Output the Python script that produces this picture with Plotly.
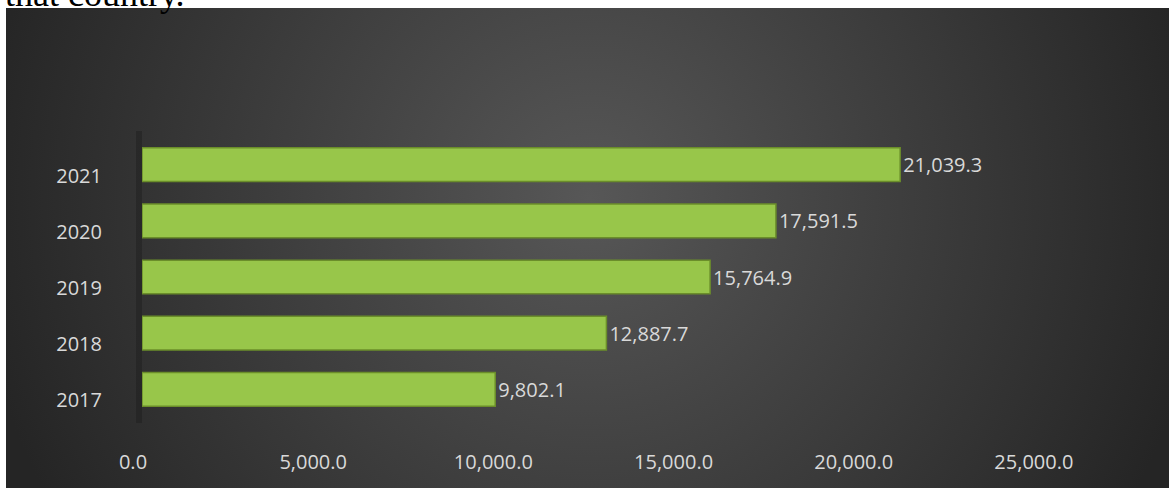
import base64
import plotly.graph_objects as go

# ---- data ----
years = ["2017", "2018", "2019", "2020", "2021"]
values = [9802.1, 12887.7, 15764.9, 17591.5, 21039.3]
x_tick_vals = [0, 5000, 10000, 15000, 20000, 25000]
x_tick_text = ["0.0", "5,000.0", "10,000.0", "15,000.0", "20,000.0", "25,000.0"]
heading_text = "that country."

# ---- layout geometry ----
W, H = 1169, 488
ML, MR, MT, MB = 142, 18, 131, 65
PW, PH = W - ML - MR, H - MT - MB


def px_x(px):
    return (px - ML) / PW


def px_y(py):
    return 1 + (MT - py) / PH


# radial gradient background as SVG image
bw, bh = 1175, 490
svg = f'''<svg xmlns="http://www.w3.org/2000/svg" width="{bw}" height="{bh}" viewBox="0 0 {bw} {bh}">
<defs><radialGradient id="g" gradientUnits="userSpaceOnUse" cx="584" cy="190" r="620">
<stop offset="0" stop-color="#575757"/><stop offset="1" stop-color="#252525"/></radialGradient></defs>
<rect x="0" y="0" width="{bw}" height="{bh}" fill="url(#g)"/></svg>'''
src = "data:image/svg+xml;base64," + base64.b64encode(svg.encode()).decode()

FONT = "Open Sans"
LABEL_COLOR = "#d9d9d9"

fig = go.Figure()
fig.add_trace(go.Bar(
    y=years, x=values, orientation="h",
    width=0.6,
    marker=dict(color="#98c64a", line=dict(color="#6b8e2a", width=1.5)),
    text=values, texttemplate="%{x:,.1f}", textposition="outside",
    textfont=dict(family=FONT, size=20, color=LABEL_COLOR),
    cliponaxis=False,
))

fig.update_layout(
    width=W, height=H,
    margin=dict(l=ML, r=MR, t=MT, b=MB),
    paper_bgcolor="#252525", plot_bgcolor="rgba(0,0,0,0)",
    showlegend=False,
    images=[dict(source=src, xref="paper", yref="paper",
                 x=px_x(6), y=px_y(8), sizex=bw / PW, sizey=bh / PH,
                 xanchor="left", yanchor="top", sizing="stretch", layer="below")],
    shapes=[
        dict(type="rect", xref="paper", yref="paper", layer="below",
             x0=px_x(-5), x1=px_x(W + 5), y0=px_y(8), y1=px_y(-5),
             fillcolor="white", line=dict(width=0)),
        dict(type="rect", xref="paper", yref="paper", layer="below",
             x0=px_x(-5), x1=px_x(6), y0=px_y(H + 5), y1=px_y(-5),
             fillcolor="white", line=dict(width=0)),
    ],
    annotations=[dict(text=heading_text, xref="paper", yref="paper",
                      x=px_x(3), y=px_y(16), xanchor="left", yanchor="bottom",
                      showarrow=False,
                      font=dict(family="Liberation Serif", size=36, color="black"))],
)

fig.update_xaxes(
    range=[0, 28000], tickvals=x_tick_vals, ticktext=x_tick_text,
    showgrid=False, zeroline=False, showline=False, ticks="",
    tickfont=dict(family=FONT, size=20, color=LABEL_COLOR),
    ticklabelshift=-9, ticklabelstandoff=25,
)
fig.update_yaxes(
    range=[-0.6, 4.6], type="category",
    showgrid=False, zeroline=False, ticks="",
    showline=True, linecolor="rgba(20,20,20,0.3)", linewidth=6, layer="below traces",
    tickfont=dict(family=FONT, size=20, color=LABEL_COLOR),
    ticklabelshift=11, ticklabelstandoff=30,
)

fig.write_html(
    "out.html", config={"displayModeBar": False},
    post_script=("document.body.style.margin='0';"
                 "document.body.style.overflow='hidden';"
                 "document.documentElement.style.overflow='hidden';"),
)
